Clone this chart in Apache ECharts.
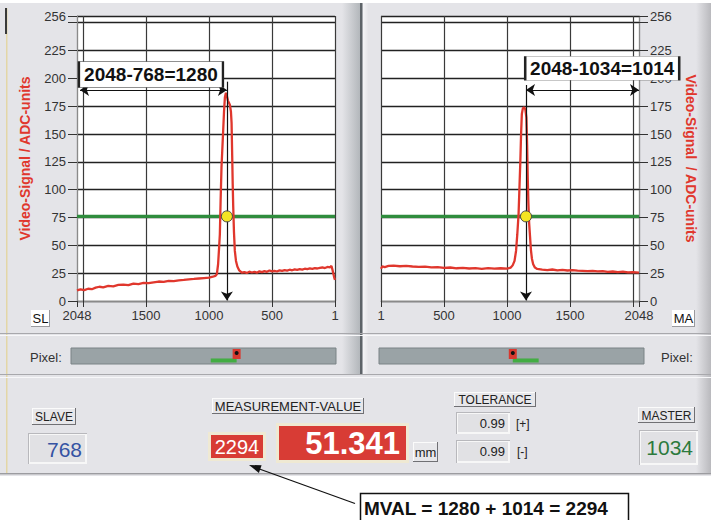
<!DOCTYPE html>
<html>
<head>
<meta charset="utf-8">
<script src="https://cdn.jsdelivr.net/npm/echarts@6/dist/echarts.min.js"></script>
<style>
html,body{margin:0;padding:0;background:#ffffff;}
#chart{width:711px;height:520px;}
</style>
</head>
<body>
<div id="chart"></div>
<script>
// ---------------- DATA ----------------
// Slave (left) video signal: [pixel axis value, ADC units]; axis runs 2048 -> 1
const slaveSignal = [
  [2048, 9.5], [2020, 10.5], [1990, 9.8], [1960, 11.0], [1930, 10.6], [1900, 12.0],
  [1870, 12.8], [1840, 12.2], [1800, 13.5], [1760, 13.2], [1720, 14.4], [1680, 14.8],
  [1640, 14.3], [1600, 15.6], [1560, 15.2], [1520, 16.3], [1480, 16.1], [1440, 16.8],
  [1400, 17.5], [1360, 17.2], [1320, 18.1], [1280, 17.8], [1240, 18.6], [1200, 18.9],
  [1160, 19.5], [1120, 19.8], [1080, 20.2], [1040, 20.6], [1000, 21.0], [970, 21.8],
  [950, 22.5], [938, 24.0], [928, 33.0], [920, 48.0], [914, 60.0], [908, 90.0],
  [901, 120.0], [895, 135.0], [888, 152.0], [881, 170.0], [874, 183.0], [866, 187.0],
  [858, 184.0], [850, 180.0], [842, 178.0], [834, 176.0], [826, 170.0], [821, 160.0],
  [816, 130.0], [812, 105.0], [808, 85.0], [802, 62.0], [795, 45.0], [786, 36.0],
  [775, 31.0], [760, 27.5], [740, 25.5], [720, 26.0], [700, 25.2], [680, 26.3],
  [660, 25.6], [640, 26.1], [620, 25.4], [600, 26.6], [580, 25.9], [560, 26.8],
  [540, 26.2], [520, 27.4], [500, 26.6], [480, 27.0], [460, 26.5], [440, 27.6],
  [420, 27.1], [400, 27.8], [380, 27.3], [360, 28.1], [340, 27.6], [320, 28.4],
  [300, 28.0], [280, 28.6], [260, 28.2], [240, 29.0], [220, 28.7], [200, 29.3],
  [180, 28.9], [160, 29.5], [140, 29.2], [120, 29.8], [100, 30.1], [80, 29.6],
  [60, 30.6], [40, 30.3], [28, 31.5], [20, 28.0], [12, 24.0], [6, 21.0], [0, 19.0]
];
// Master (right) video signal: axis runs 1 -> 2048
const masterSignal = [
  [0, 29.0], [10, 31.0], [30, 30.5], [60, 31.5], [100, 31.8], [150, 31.2], [200, 31.6],
  [250, 31.0], [300, 30.6], [350, 30.9], [400, 30.2], [450, 30.5], [500, 29.8],
  [550, 30.1], [600, 29.4], [650, 29.7], [700, 29.2], [750, 29.5], [800, 28.9],
  [850, 29.6], [900, 29.1], [950, 29.4], [1000, 29.0], [1030, 30.0], [1045, 32.0],
  [1060, 36.0], [1072, 45.0], [1082, 60.0], [1092, 78.0], [1100, 105.0], [1106, 125.0],
  [1112, 150.0], [1118, 168.0], [1126, 173.0], [1136, 174.0], [1146, 172.0],
  [1154, 165.0], [1160, 140.0], [1165, 110.0], [1170, 88.0], [1176, 70.0],
  [1183, 58.0], [1190, 46.0], [1198, 38.0], [1208, 33.0], [1222, 30.0], [1240, 28.8],
  [1280, 28.2], [1320, 27.8], [1360, 28.3], [1400, 27.6], [1440, 28.0], [1480, 27.4],
  [1520, 27.7], [1560, 27.2], [1600, 27.0], [1640, 26.8], [1680, 27.1], [1720, 26.6],
  [1760, 26.9], [1800, 26.2], [1840, 26.5], [1880, 26.0], [1920, 26.3], [1960, 25.7],
  [2000, 25.9], [2048, 25.5]
];
const threshold = 76;
const slaveEdge = 858;       // detected edge position on left axis
const masterEdge = 1151;     // detected edge position on right axis
const slaveValue = 768;
const masterValue = 1034;
const slaveSegment = [768, 968];
const masterSegment = [1034, 1234];
const slaveFormula = '2048-768=1280';
const masterFormula = '2048-1034=1014';
const mvalFormula = 'MVAL = 1280 + 1014 = 2294';
const mvalText = '2294';
const measurementText = '51.341';
const tolPlus = '0.99';
const tolMinus = '0.99';
const yAxisName = 'Video-Signal / ADC-units';
const yAxisNameRight = 'Video-Signal  / ADC-units';

// ---------------- STYLE ----------------
const FONT = '"Liberation Sans", Arial, Helvetica, sans-serif';
const RED = '#e0372d';
const PANEL = '#e4e4e8';

const chart = echarts.init(document.getElementById('chart'), null, {renderer: 'svg'});

function xFmt(v) { if (v === 0) return '1'; if (v === 2000) return ''; return String(v); }
function yFmt(v) { return v === 250 ? '' : String(v); }

function xAxisMain(grid, inverse) {
  return {
    gridIndex: grid, type: 'value', min: 0, max: 2048, interval: 500, inverse: inverse,
    axisLine: {show: true, onZero: false, lineStyle: {color: '#8a8a8a', width: 1}},
    axisTick: {show: true, inside: false, length: 6, lineStyle: {color: '#333', width: 1}},
    axisLabel: {margin: 8, fontSize: 13, color: '#333', fontFamily: FONT, formatter: xFmt},
    splitLine: {show: true, lineStyle: {color: '#3a3a3a', width: 1.2, opacity: 1, type: 'solid'}}
  };
}
function yAxisMain(grid, pos, name, rot) {
  return {
    gridIndex: grid, type: 'value', min: 0, max: 256, interval: 25, position: pos,
    axisLine: {show: true, onZero: false, lineStyle: {color: '#8a8a8a', width: 1}},
    axisTick: {show: true, inside: false, length: 9, lineStyle: {color: '#333', width: 1}},
    axisLabel: {margin: 11, fontSize: 13, color: '#333', fontFamily: FONT, formatter: yFmt},
    splitLine: {show: true, lineStyle: {color: '#222222', width: 1.3, opacity: 1, type: 'solid'}},
    name: name, nameLocation: 'middle', nameGap: 45, nameRotate: rot,
    nameTextStyle: {color: RED, fontWeight: 'bold', fontSize: 14, fontFamily: FONT}
  };
}

function hidden(grid, inverse, max) {
  return {gridIndex: grid, type: 'value', min: 0, max: max, inverse: !!inverse, show: false,
    axisLine: {show: false}, axisTick: {show: false}, axisLabel: {show: false}, splitLine: {show: false}};
}

// ---------- GUI helpers (panel chrome) ----------
function R(x, y, w, h, fill, z, extra) {
  return Object.assign({type: 'rect', silent: true, z: z === undefined ? -10 : z,
    shape: {x: x, y: y, width: w, height: h}, style: {fill: fill}}, extra || {});
}
function T(x, y, str, size, color, align, weight, z) {
  return {type: 'text', silent: true, z: z === undefined ? 50 : z, x: x, y: y,
    style: {text: str, fill: color, fontSize: size, fontFamily: FONT, fontWeight: weight || 'normal',
      align: align || 'left', textAlign: align || 'left', verticalAlign: 'middle', textVerticalAlign: 'middle'}};
}
function raised(x, y, w, h) {
  return [R(x, y, w, h, '#707074', 10), R(x, y, w - 1, h - 1, '#fbfbfb', 11), R(x + 1, y + 1, w - 2, h - 2, '#e7e7ea', 12)];
}
function sunken(x, y, w, h, fill) {
  return [R(x, y, w, h, '#b8b8bc', 10), R(x + 1, y + 1, w - 1, h - 1, '#f7f7f7', 11), R(x + 2, y + 2, w - 4, h - 4, fill || '#e1e1e4', 12)];
}
function redBox(x, y, w, h) {
  return [R(x, y, w, h, '#efe9d3', 10), R(x + 3, y + 3, w - 6, h - 6, '#d83c35', 11)];
}
function hline(x1, x2, y, color, z) {
  return {type: 'line', silent: true, z: z === undefined ? -8 : z, shape: {x1: x1, y1: y, x2: x2, y2: y}, style: {stroke: color, lineWidth: 1}};
}
function vgrad(x, y, w, h, c1, c2, z) {
  return {type: 'rect', silent: true, z: z === undefined ? -9 : z, shape: {x: x, y: y, width: w, height: h},
    style: {fill: new echarts.graphic.LinearGradient(0, 0, 1, 0, [{offset: 0, color: c1}, {offset: 1, color: c2}])}};
}

const graphics = [].concat(
  [R(0, 0, 711, 520, '#ffffff', -20), R(0, 3, 711, 473, PANEL, -19)],
  // left beige frame edge
  [R(6, 8, 1.5, 466, '#e3d6a6', -8), R(5, 8, 2, 26, '#3a3a3a', -7)],
  // vertical divider between chart panels
  [vgrad(342, 3, 18, 371, PANEL, '#b3b7bb'), R(360, 3, 2.5, 371, '#5d6368', -8), vgrad(362.5, 3, 6, 371, '#f6f6f8', PANEL)],
  // right edge shadow
  [vgrad(696, 3, 15, 471, PANEL, '#b9b9bd')],
  // horizontal separators
  [hline(0, 711, 333.5, '#a8a8ac'), hline(0, 711, 335.5, '#f7f7f9'), hline(0, 711, 374.5, '#a8a8ac'),
   hline(0, 711, 377.5, '#f7f7f9'), hline(0, 711, 473.5, '#9c9ca0'), hline(0, 711, 474.5, '#c8c8cc')],
  // SL / MA boxes
  [R(31, 310, 19, 17, '#9a9a9e', 10), R(31, 310, 18, 16, '#ffffff', 11), T(40.5, 318.5, 'SL', 13, '#111', 'center'),
   R(672, 310, 23, 17, '#9a9a9e', 10), R(672, 310, 22, 16, '#ffffff', 11), T(683.5, 318.5, 'MA', 13, '#111', 'center')],
  // pixel labels
  [T(30, 357, 'Pixel:', 13, '#333'), T(661, 357, 'Pixel:', 13, '#333')],
  // SLAVE
  raised(32, 408, 44, 17), [T(54, 417, 'SLAVE', 12, '#222', 'center')],
  sunken(28, 433, 59, 31), [T(82, 449, String(slaveValue), 21, '#3553a3', 'right')],
  // MEASUREMENT-VALUE
  raised(212, 398, 152, 16), [T(288, 406.5, 'MEASUREMENT-VALUE', 13, '#222', 'center')],
  redBox(208, 432, 58, 29), [T(237, 447, mvalText, 20, '#ffffff', 'center')],
  redBox(276, 423, 133, 40), [T(400, 443, measurementText, 31, '#ffffff', 'right', 'bold')],
  raised(413, 442, 25, 20), [T(425.5, 452.5, 'mm', 13, '#222', 'center')],
  // TOLERANCE
  raised(454, 392, 82, 15), [T(495, 400, 'TOLERANCE', 12, '#222', 'center')],
  sunken(456, 412, 54, 22), [T(505, 423, tolPlus, 13, '#222', 'right'), T(516, 423.5, '[+]', 12, '#222')],
  sunken(456, 440, 54, 23), [T(505, 451.5, tolMinus, 13, '#222', 'right'), T(517, 452, '[-]', 12, '#222')],
  // MASTER
  raised(638, 407, 57, 16), [T(666.5, 415.5, 'MASTER', 12, '#222', 'center')],
  sunken(639, 430, 59, 35), [T(693, 447.5, String(masterValue), 21, '#2c7a3d', 'right')],
  // MVAL callout
  [{type: 'line', silent: true, z: 40, shape: {x1: 355, y1: 503.5, x2: 258, y2: 468.5}, style: {stroke: '#111', lineWidth: 1.3}},
   {type: 'polygon', silent: true, z: 41, shape: {points: [[249, 465], [261.6, 465.3], [258.9, 472.9]]}, style: {fill: '#111'}},
   R(360.5, 493.5, 268, 30, '#ffffff', 30, {style: {fill: '#ffffff', stroke: '#111', lineWidth: 1.5}}),
   T(364, 508.5, mvalFormula, 19, '#111', 'left', 'bold', 45)]
);

const arrowLine = {color: '#111', width: 1.2, type: 'solid'};

const option = {
  animation: false,
  backgroundColor: 'transparent',
  textStyle: {fontFamily: FONT},
  grid: [
    {left: 77, top: 16, width: 258, height: 285, show: true, backgroundColor: '#ffffff', borderWidth: 0},
    {left: 381, top: 16, width: 258, height: 285, show: true, backgroundColor: '#ffffff', borderWidth: 0},
    {left: 71, top: 348, width: 265, height: 16, show: true, backgroundColor: '#9aa3a6', borderColor: '#7b8386', borderWidth: 1},
    {left: 379, top: 348, width: 265, height: 16, show: true, backgroundColor: '#9aa3a6', borderColor: '#7b8386', borderWidth: 1}
  ],
  xAxis: [xAxisMain(0, true), xAxisMain(1, false), hidden(2, true, 2048), hidden(3, false, 2048)],
  yAxis: [
    yAxisMain(0, 'left', yAxisName, 90),
    yAxisMain(1, 'right', yAxisNameRight, -90),
    hidden(2, false, 1), hidden(3, false, 1)
  ],
  graphic: graphics,
  series: [
    // thresholds
    {type: 'line', xAxisIndex: 0, yAxisIndex: 0, data: [[0, threshold], [2048, threshold]], symbol: 'none', silent: true,
      lineStyle: {color: '#2f8c3d', width: 3.2}, z: 3},
    {type: 'line', xAxisIndex: 1, yAxisIndex: 1, data: [[0, threshold], [2048, threshold]], symbol: 'none', silent: true,
      lineStyle: {color: '#2f8c3d', width: 3.2}, z: 3},
    // signals
    {type: 'line', xAxisIndex: 0, yAxisIndex: 0, data: slaveSignal, symbol: 'none', silent: true,
      lineStyle: {color: RED, width: 2.3}, z: 4},
    {type: 'line', xAxisIndex: 1, yAxisIndex: 1, data: masterSignal, symbol: 'none', silent: true,
      lineStyle: {color: RED, width: 2.3}, z: 4},
    // edge points with annotations
    {type: 'scatter', xAxisIndex: 0, yAxisIndex: 0, data: [[slaveEdge, threshold]], symbolSize: 11, silent: true,
      itemStyle: {color: '#f4e422', borderColor: '#444', borderWidth: 1, opacity: 1}, z: 6,
      markLine: {silent: true, symbol: ['arrow', 'arrow'], symbolSize: 9, lineStyle: arrowLine, label: {show: false},
        data: [
          [{coord: [2024, 189.5]}, {coord: [slaveEdge, 189.5]}],
          [{coord: [slaveEdge, 197], symbol: 'none'}, {coord: [slaveEdge, 0.5], symbol: 'arrow'}]
        ]},
      markPoint: {silent: true, symbol: 'rect', symbolSize: [144, 26],
        itemStyle: {color: '#ffffff', borderColor: '#222', borderWidth: 1},
        label: {show: true, position: 'inside', formatter: slaveFormula, color: '#111', fontSize: 19, fontWeight: 'bold', fontFamily: FONT},
        data: [{coord: [1461, 203.4]}]}
    },
    {type: 'scatter', xAxisIndex: 1, yAxisIndex: 1, data: [[masterEdge, threshold]], symbolSize: 11, silent: true,
      itemStyle: {color: '#f4e422', borderColor: '#444', borderWidth: 1, opacity: 1}, z: 6,
      markLine: {silent: true, symbol: ['arrow', 'arrow'], symbolSize: 9, lineStyle: arrowLine, label: {show: false},
        data: [
          [{coord: [masterEdge, 189.5]}, {coord: [2048, 189.5]}],
          [{coord: [masterEdge, 194], symbol: 'none'}, {coord: [masterEdge, 0.5], symbol: 'arrow'}]
        ]},
      markPoint: {silent: true, symbol: 'rect', symbolSize: [154, 24],
        itemStyle: {color: '#ffffff', borderColor: '#222', borderWidth: 1},
        label: {show: true, position: 'inside', formatter: masterFormula, color: '#111', fontSize: 19, fontWeight: 'bold', fontFamily: FONT},
        data: [{coord: [1756, 209]}]}
    },
    // pixel bars
    {type: 'line', xAxisIndex: 2, yAxisIndex: 2, data: [[slaveSegment[0], 0.22], [slaveSegment[1], 0.22]], symbol: 'none', silent: true,
      lineStyle: {color: '#43ad43', width: 4}, z: 3},
    {type: 'scatter', xAxisIndex: 2, yAxisIndex: 2, data: [[slaveValue, 0.625]], symbol: 'rect', symbolSize: [8, 10], silent: true,
      itemStyle: {color: '#d8382f', opacity: 1}, z: 4},
    {type: 'scatter', xAxisIndex: 2, yAxisIndex: 2, data: [[slaveValue, 0.69]], symbolSize: 4, silent: true,
      itemStyle: {color: '#111', opacity: 1}, z: 5},
    {type: 'line', xAxisIndex: 3, yAxisIndex: 3, data: [[masterSegment[0], 0.22], [masterSegment[1], 0.22]], symbol: 'none', silent: true,
      lineStyle: {color: '#43ad43', width: 4}, z: 3},
    {type: 'scatter', xAxisIndex: 3, yAxisIndex: 3, data: [[masterValue, 0.625]], symbol: 'rect', symbolSize: [8, 10], silent: true,
      itemStyle: {color: '#d8382f', opacity: 1}, z: 4},
    {type: 'scatter', xAxisIndex: 3, yAxisIndex: 3, data: [[masterValue, 0.69]], symbolSize: 4, silent: true,
      itemStyle: {color: '#111', opacity: 1}, z: 5}
  ]
};
chart.setOption(option);
</script>
</body>
</html>
